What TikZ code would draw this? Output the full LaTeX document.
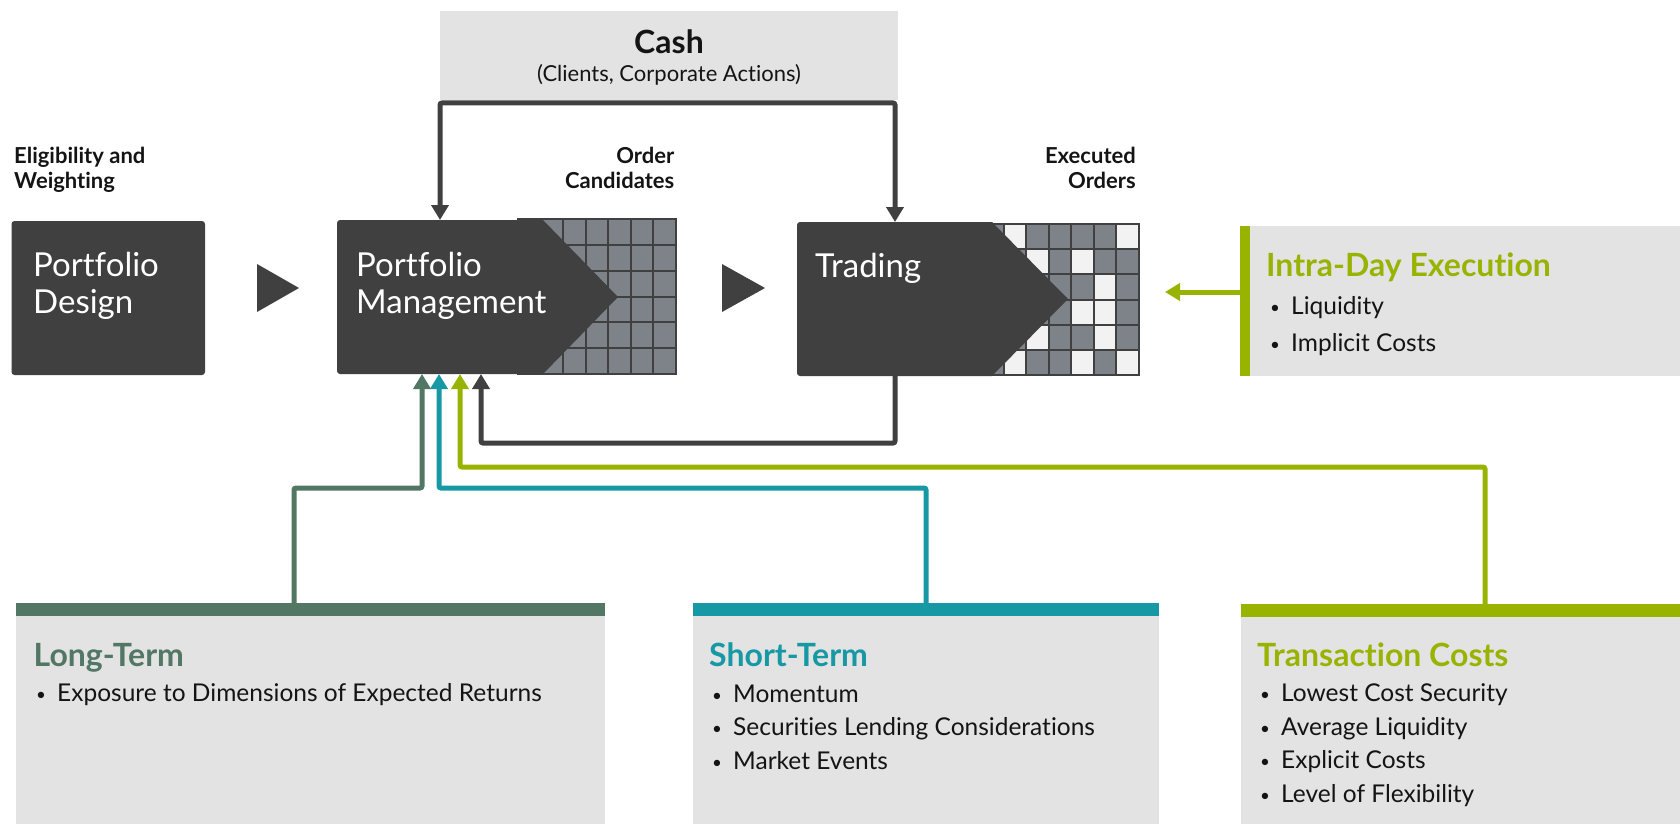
\documentclass[tikz,border=0pt]{standalone}
\usepackage{fontspec}
\setmainfont{Lato}[Ligatures=NoCommon]
\usetikzlibrary{arrows.meta}

\definecolor{boxdark}{HTML}{404040}
\definecolor{gridgray}{HTML}{7E838A}
\definecolor{cellwhite}{HTML}{F2F2F2}
\definecolor{panelgray}{HTML}{E3E3E3}
\definecolor{ltgreen}{HTML}{527865}
\definecolor{stteal}{HTML}{1798A5}
\definecolor{tclime}{HTML}{99B400}
\definecolor{inktext}{HTML}{141414}

% small list marker with a fixed indent for the item text
\newcommand{\bul}{\makebox[21pt][l]{\raisebox{1pt}{\fontsize{17}{17}\selectfont\textbullet}}}

\begin{document}
\begin{tikzpicture}[x=1pt,y=-1pt,
  area/.style={inner sep=0pt, outer sep=0pt, anchor=north west},
  panel/.style={area, fill=panelgray},
  stagebox/.style={area, fill=boxdark, rounded corners=3pt},
  flow/.style={line width=5pt, rounded corners=2pt},
  headtip/.style={-{Triangle[width=17pt,length=15pt]}},
  gridline/.style={draw=boxdark, line width=2pt},
  stagetext/.style={anchor=base west, align=left, text=white, inner sep=0pt,
    font=\fontsize{33}{37}\selectfont},
  smallhead/.style={inner sep=0pt, text=inktext,
    font=\bfseries\fontsize{22}{25}\selectfont},
  paneltitle/.style={anchor=base west, inner sep=0pt,
    font=\bfseries\fontsize{32}{36}\selectfont},
  bullets/.style={anchor=base west, align=left, inner sep=0pt, text=inktext,
    font=\fontsize{24.5}{33.5}\selectfont}]

\useasboundingbox (0,0) rectangle (1680,824);

% ---------- cash source ----------
\node[panel, minimum width=458pt, minimum height=89pt] (cash) at (440,11) {};
\node[anchor=base, inner sep=0pt, text=inktext, font=\bfseries\fontsize{32}{36}\selectfont]
  (cashtitle) at (669,54) {Cash};
\node[anchor=base, inner sep=0pt, text=inktext, font=\fontsize{22}{26}\selectfont]
  (cashnote) at (669,82) {(Clients, Corporate Actions)};

% ---------- order grids (drawn first, partly covered by the stages) ----------
\node[area, minimum width=158pt, minimum height=155pt] (pmgrid) at (518,219) {};
\begin{scope}[shift={(518,219)}]
  \fill[gridgray] (0,0) rectangle (158,155);
  \foreach \i in {0,...,7} \draw[gridline] (\i*158/7,0) -- (\i*158/7,155);
  \foreach \j in {0,...,6} \draw[gridline] (0,\j*155/6) -- (158,\j*155/6);
  \draw[gridline] (0,0) rectangle (158,155);
\end{scope}

\node[area, minimum width=158pt, minimum height=151pt] (trgrid) at (981,224) {};
\begin{scope}[shift={(981,224)}]
  \fill[gridgray] (0,0) rectangle (158,151);
  \foreach \c/\r in {1/0,6/0,2/1,4/1,5/2,4/3,5/3,2/4,5/4,1/5,4/5,6/5}
    \fill[cellwhite] (\c*158/7,\r*151/6) rectangle ++(158/7,151/6);
  \foreach \i in {0,...,7} \draw[gridline] (\i*158/7,0) -- (\i*158/7,151);
  \foreach \j in {0,...,6} \draw[gridline] (0,\j*151/6) -- (158,\j*151/6);
  \draw[gridline] (0,0) rectangle (158,151);
\end{scope}

% ---------- stages ----------
\node[stagebox, minimum width=193.5pt, minimum height=154pt] (pd) at (11.5,221) {};
\node[stagetext] (pdtext) at (33,313) {Portfolio\\Design};

\node[area, minimum width=206pt, minimum height=154pt] (pm) at (337,220) {};
\fill[boxdark] (pm.north east) -- ++(75,77) -- (pm.south east)
  [rounded corners=3pt] -- (pm.south west) -- (pm.north west)
  [sharp corners] -- (pm.north east) -- cycle;
\node[stagetext] (pmtext) at (356,313) {Portfolio\\Management};

\node[area, minimum width=195pt, minimum height=154pt] (trade) at (797,222) {};
\fill[boxdark] (trade.north east) -- ++(76,77) -- (trade.south east)
  [rounded corners=3pt] -- (trade.south west) -- (trade.north west)
  [sharp corners] -- (trade.north east) -- cycle;
\node[stagetext] (tradetext) at (815,277) {Trading};

% flow markers between stages
\fill[boxdark] (257,264) -- (299,288) -- (257,312) -- cycle;
\fill[boxdark] (722,264) -- (765,288) -- (722,312) -- cycle;

% ---------- stage captions ----------
\node[smallhead, anchor=base west, align=left] (elig) at (14,188) {Eligibility and\\Weighting};
\node[smallhead, anchor=base east, align=right] (ordcand) at (674.5,188) {Order\\Candidates};
\node[smallhead, anchor=base east, align=right] (execord) at (1136,188) {Executed\\Orders};

% ---------- intra-day panel ----------
\node[panel, minimum width=440pt, minimum height=150pt] (intra) at (1240,226) {};
\fill[tclime] (intra.north west) rectangle ([xshift=10pt]intra.south west);
\node[paneltitle, text=tclime] (intratitle) at (1266,276) {Intra-Day Execution};
\node[bullets, font=\fontsize{24.5}{37}\selectfont] (intralist) at (1270,351)
  {\bul Liquidity\\\bul Implicit Costs};

% ---------- bottom panels ----------
\node[area, fill=ltgreen, minimum width=589pt, minimum height=13pt] (ltbar) at (16,603) {};
\node[panel, minimum width=589pt, minimum height=208pt] (lt) at (16,616) {};
\node[paneltitle, text=ltgreen] (lttitle) at (33.5,666) {Long-Term};
\node[bullets] (ltlist) at (36,701) {\bul Exposure to Dimensions of Expected Returns};

\node[area, fill=stteal, minimum width=466pt, minimum height=13pt] (stbar) at (693,603) {};
\node[panel, minimum width=466pt, minimum height=208pt] (st) at (693,616) {};
\node[paneltitle, text=stteal] (sttitle) at (709,666) {Short-Term};
\node[bullets] (stlist) at (712,769)
  {\bul Momentum\\\bul Securities Lending Considerations\\\bul Market Events};

\node[area, fill=tclime, minimum width=439pt, minimum height=13pt] (tcbar) at (1241,604) {};
\node[panel, minimum width=439pt, minimum height=207pt] (tc) at (1241,617) {};
\node[paneltitle, text=tclime] (tctitle) at (1257,666) {Transaction Costs};
\node[bullets] (tclist) at (1260,802)
  {\bul Lowest Cost Security\\\bul Average Liquidity\\\bul Explicit Costs\\\bul Level of Flexibility};

% ---------- connectors ----------
\draw[flow, draw=boxdark, headtip] ([yshift=-3pt]cash.south) -| ([xshift=103pt]pm.north west);
\draw[flow, draw=boxdark, headtip] ([yshift=-3pt]cash.south) -| ([xshift=98pt]trade.north west);
\draw[flow, draw=boxdark, headtip] ([xshift=98pt]trade.south west) -- ++(0,67)
  -| ([xshift=144pt]pm.south west);

\draw[flow, draw=tclime, headtip] ([xshift=244pt]tcbar.north west) -- ++(0,-137)
  -| ([xshift=123pt]pm.south west);
\draw[flow, draw=stteal, headtip] ([xshift=233pt]stbar.north west) -- ++(0,-115)
  -| ([xshift=102pt]pm.south west);
\draw[flow, draw=ltgreen, headtip] ([xshift=278pt]ltbar.north west) -- ++(0,-115)
  -| ([xshift=85pt]pm.south west);

\coordinate (intratip) at (1165,292);
\draw[flow, draw=tclime, headtip] (intra.west |- intratip) -- (intratip);

\end{tikzpicture}
\end{document}
